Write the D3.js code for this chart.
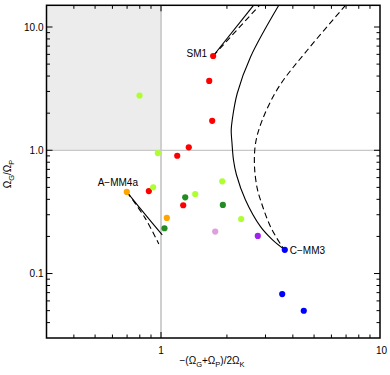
<!DOCTYPE html>
<html><head><meta charset="utf-8">
<script src="https://cdn.jsdelivr.net/npm/d3@7"></script>
<style>
html,body{margin:0;padding:0;background:#fff;}
svg{display:block;font-family:"Liberation Sans",Arial,Helvetica,sans-serif;}
</style></head>
<body>
<svg id="chart" width="390" height="375"></svg>
<script>
// ---- data ----
const xDomain = [0.3, 10];
const yDomain = [0.03, 15];
const xTickValues = [1, 10];
const xTickLabels = ["1", "10"];
const yTickValues = [0.1, 1, 10];
const yTickLabels = ["0.1", "1.0", "10.0"];

const redPts = [[1.73,5.82],[1.66,3.655],[1.713,1.733],[1.339,1.056],[1.186,0.903],[0.88,0.467],[1.263,0.358]];
const limePts = [[0.798,2.783],[0.967,0.949],[0.921,0.501],[1.433,0.442],[1.904,0.560],[2.323,0.277]];
const orangePts = [[0.698,0.459],[1.063,0.2825]];
const darkGreenPts = [[1.29,0.4155],[1.916,0.360],[1.037,0.233]];
const pinkPts = [[1.768,0.219]];
const purplePts = [[2.767,0.2019]];
const bluePts = [[3.675,0.1557],[3.576,0.0681],[4.487,0.0499]];

const sm1Solid = [[1.73,5.82],[2.645,15]];
const sm1Dashed = [[1.73,5.82],[2.818,15]];
const cmm3Solid = [[3.45,15],[2.563,5.715],[2.228,2.888],[2.114,1.756],[2.092,1.457],[2.110,1.137],[2.143,0.833],[2.212,0.630],[2.431,0.395],[2.847,0.240],[3.23,0.1875],[3.675,0.1557]];
const cmm3Dashed = [[6.96,15],[4.653,6.477],[3.451,3.267],[2.899,1.756],[2.702,1.137],[2.673,0.735],[2.750,0.491],[2.847,0.395],[3.162,0.240],[3.576,0.1654],[3.675,0.1557]];
const amm4Solid = [[0.698,0.459],[0.850,0.2987],[1.013,0.2058]];
const amm4Dashed = [[0.698,0.459],[0.845,0.283],[0.977,0.174]];

const labels = [
  {text:"SM1", pt:[1.73,5.82], anchor:"end", dx:-6, dy:1},
  {text:"A\u2212MM4a", pt:[0.698,0.459], anchor:"middle", dx:-9, dy:-6},
  {text:"C\u2212MM3", pt:[3.675,0.1557], anchor:"start", dx:5, dy:4}
];

// ---- layout ----
const L = 46.5, R = 380, T = 5.3, B = 338;
const x = d3.scaleLog().domain(xDomain).range([L, R]);
const y = d3.scaleLog().domain(yDomain).range([B, T]);
const svg = d3.select("#chart");

svg.append("defs").append("clipPath").attr("id","clip")
  .append("rect").attr("x",L).attr("y",T).attr("width",R-L).attr("height",B-T);

// shaded region x<1, y>1
svg.append("rect").attr("x",L).attr("y",T)
  .attr("width",x(1)-L).attr("height",y(1)-T).attr("fill","#ececec");

// reference lines
svg.append("line").attr("x1",x(1)).attr("x2",x(1)).attr("y1",T).attr("y2",B)
  .attr("stroke","#cfcfcf").attr("stroke-width",2);
svg.append("line").attr("x1",L).attr("x2",R).attr("y1",y(1)).attr("y2",y(1))
  .attr("stroke","#c8c8c8").attr("stroke-width",1.3);

// ticks
const majorLen = 6, minorLen = 3.5;
const xt = x.ticks().filter(v => v > xDomain[0]*1.001 && v < xDomain[1]*0.999);
const yt = y.ticks().filter(v => v > yDomain[0]*1.001 && v < yDomain[1]*0.999);
const isMajor = v => Math.abs(Math.log10(v) - Math.round(Math.log10(v))) < 1e-6;
const tg = svg.append("g").attr("stroke","#000").attr("stroke-width",1);
xt.forEach(v => {
  const len = isMajor(v) ? majorLen : minorLen;
  tg.append("line").attr("x1",x(v)).attr("x2",x(v)).attr("y1",B).attr("y2",B-len);
  tg.append("line").attr("x1",x(v)).attr("x2",x(v)).attr("y1",T).attr("y2",T+len);
});
yt.forEach(v => {
  const len = isMajor(v) ? majorLen : minorLen;
  tg.append("line").attr("y1",y(v)).attr("y2",y(v)).attr("x1",L).attr("x2",L+len);
  tg.append("line").attr("y1",y(v)).attr("y2",y(v)).attr("x1",R).attr("x2",R-len);
});

// frame
svg.append("rect").attr("x",L).attr("y",T).attr("width",R-L).attr("height",B-T)
  .attr("fill","none").attr("stroke","#000").attr("stroke-width",1.5);

// tick labels
xTickValues.forEach((v,i) => {
  svg.append("text").attr("x",x(v)+(i?1.5:0)).attr("y",354).attr("text-anchor","middle")
    .attr("font-size",10).text(xTickLabels[i]);
});
yTickValues.forEach((v,i) => {
  svg.append("text").attr("x",43.5).attr("y",y(v)+3.5).attr("text-anchor","end")
    .attr("font-size",10).text(yTickLabels[i]);
});

// axis titles
const xl = svg.append("text").attr("x",212).attr("y",364).attr("text-anchor","middle").attr("font-size",10);
xl.append("tspan").text("\u2212(\u03A9");
xl.append("tspan").attr("font-size",7.5).attr("dy",3).text("G");
xl.append("tspan").attr("dy",-3).text("+\u03A9");
xl.append("tspan").attr("font-size",7.5).attr("dy",3).text("P");
xl.append("tspan").attr("dy",-3).text(")/2\u03A9");
xl.append("tspan").attr("font-size",7.5).attr("dy",3).text("K");

const yl = svg.append("text").attr("transform","translate(11,174) rotate(-90)")
  .attr("text-anchor","middle").attr("font-size",10);
yl.append("tspan").text("\u03A9");
yl.append("tspan").attr("font-size",7.5).attr("dy",3).text("G");
yl.append("tspan").attr("dy",-3).text("/\u03A9");
yl.append("tspan").attr("font-size",7.5).attr("dy",3).text("P");

// curves
const line = d3.line().x(d => x(d[0])).y(d => y(d[1])).curve(d3.curveCatmullRom.alpha(0.5));
const cg = svg.append("g").attr("clip-path","url(#clip)").attr("fill","none").attr("stroke","#000").attr("stroke-width",1.1);
[[sm1Solid,null],[sm1Dashed,"6,3.5"],[cmm3Solid,null],[cmm3Dashed,"6,3.5"],[amm4Solid,null],[amm4Dashed,"6,3.5"]]
  .forEach(([d,dash]) => {
    const p = cg.append("path").attr("d", line(d));
    if (dash) p.attr("stroke-dasharray", dash);
  });

// points
const groups = [
  [redPts,"#ff0000"],[limePts,"#adff2f"],[orangePts,"#ffa500"],
  [darkGreenPts,"#228b22"],[pinkPts,"#dda0dd"],[purplePts,"#a020f0"],[bluePts,"#0000ff"]
];
const pg = svg.append("g");
groups.forEach(([pts,col]) => {
  pg.selectAll(null).data(pts).enter().append("circle")
    .attr("cx",d => x(d[0])).attr("cy",d => y(d[1])).attr("r",3.1).attr("fill",col);
});

// labels
labels.forEach(l => {
  svg.append("text").attr("x",x(l.pt[0])+l.dx).attr("y",y(l.pt[1])+l.dy)
    .attr("text-anchor",l.anchor).attr("font-size",10).text(l.text);
});
</script>
</body></html>
